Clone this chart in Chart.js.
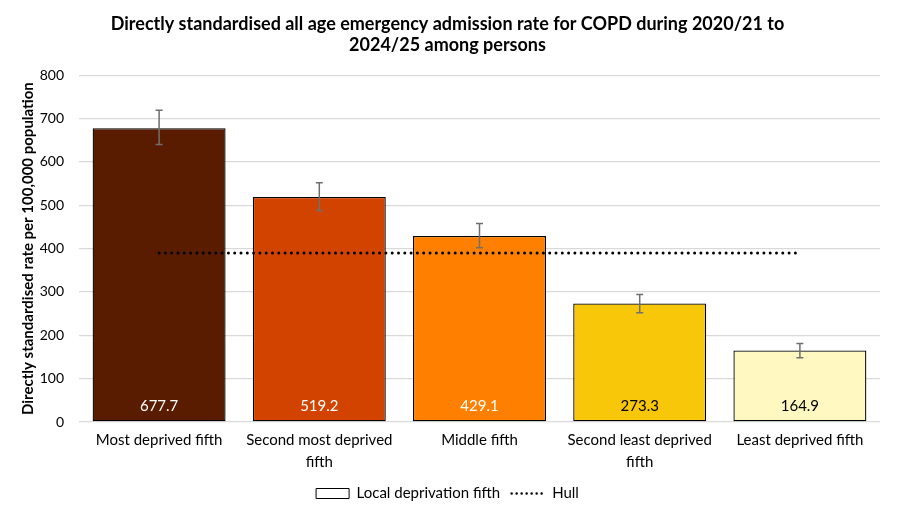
<!DOCTYPE html>
<html>
<head>
<meta charset="utf-8">
<script src="https://cdn.jsdelivr.net/npm/chart.js@4/dist/chart.umd.min.js"></script>
<style>
  body { margin: 0; background: #fff; }
  #wrap { width: 920px; height: 515px; }
</style>
</head>
<body>
<div id="wrap"><canvas id="copdchart"></canvas></div>
<script>
// Start Data
const categories = [
  ['Most deprived fifth'],
  ['Second most deprived', 'fifth'],
  ['Middle fifth'],
  ['Second least deprived', 'fifth'],
  ['Least deprived fifth']
];
const rates = [677.7, 519.2, 429.1, 273.3, 164.9];
const lowerCI = [640, 488, 402, 252, 148];
const upperCI = [719, 552, 458, 294, 181];
const hullRate = [390, 390, 390, 390, 390];
const yTicks = [0, 100, 200, 300, 400, 500, 600, 700, 800];
const barColours = ['#5a1c00', '#d34300', '#ff8000', '#f8c70a', '#fff8c0'];
const labelColours = ['#ffffff', '#ffffff', '#ffffff', '#000000', '#000000'];
// End Data

const FONT = 'Lato, "Open Sans", sans-serif';

// Start Error bars + value labels
const barExtras = {
  id: 'barExtras',
  afterDatasetsDraw(chart) {
    const ctx = chart.ctx;
    const y = chart.scales.y;
    const meta = chart.getDatasetMeta(0);
    ctx.save();
    meta.data.forEach(function(bar, i){
      // value label near the bottom of the bar
      ctx.fillStyle = labelColours[i];
      ctx.font = '15px ' + FONT;
      ctx.textAlign = 'center';
      ctx.textBaseline = 'middle';
      ctx.fillText(rates[i].toFixed(1), bar.x, bar.base - 15);

      // confidence interval
      const top = y.getPixelForValue(upperCI[i]);
      const bot = y.getPixelForValue(lowerCI[i]);
      ctx.strokeStyle = '#6f6f6f';
      ctx.lineWidth = 1.5;
      ctx.beginPath();
      ctx.moveTo(bar.x, top); ctx.lineTo(bar.x, bot);
      ctx.moveTo(bar.x - 3.5, top); ctx.lineTo(bar.x + 3.5, top);
      ctx.moveTo(bar.x - 3.5, bot); ctx.lineTo(bar.x + 3.5, bot);
      ctx.stroke();
    });
    ctx.restore();
  }
};
// End Error bars

new Chart(document.getElementById('copdchart'), {
  data: {
    labels: categories,
    datasets: [{
      type: 'bar',
      label: 'Local deprivation fifth',
      data: rates,
      backgroundColor: barColours,
      borderColor: '#000000',
      borderWidth: 1.3,
      borderSkipped: false,
      categoryPercentage: 1,
      barPercentage: 0.83,
      order: 1
    }, {
      type: 'line',
      label: 'Hull',
      data: hullRate,
      borderColor: '#000000',
      borderWidth: 3,
      borderDash: [0, 6.3],
      borderCapStyle: 'round',
      pointRadius: 0,
      fill: false,
      order: 0
    }]
  },
  options: {
    responsive: true,
    maintainAspectRatio: false,
    animation: false,
    layout: { padding: { left: 15, right: 40, top: 11, bottom: 4 } },
    plugins: {
      title: {
        display: true,
        text: ['Directly standardised all age emergency admission rate for COPD during 2020/21 to', '2024/25 among persons'],
        color: '#000',
        font: { family: FONT, size: 18, weight: 'bold' },
        lineHeight: 1.22,
        padding: { top: 2, bottom: 19 }
      },
      legend: {
        position: 'bottom',
        labels: {
          usePointStyle: true,
          pointStyleWidth: 33,
          boxHeight: 10,
          color: '#000',
          font: { family: FONT, size: 15 },
          padding: 11.5,
          generateLabels: function(chart){
            return [{
              text: 'Local deprivation fifth',
              pointStyle: 'rect',
              fillStyle: '#ffffff',
              strokeStyle: '#000000',
              lineWidth: 1,
              datasetIndex: 0
            }, {
              text: 'Hull',
              pointStyle: 'line',
              fillStyle: '#000000',
              strokeStyle: '#000000',
              lineWidth: 2.5,
              lineDash: [0, 5],
              lineCap: 'round',
              datasetIndex: 1
            }];
          }
        }
      },
      tooltip: { enabled: false }
    },
    scales: {
      x: {
        grid: { display: false, drawTicks: false },
        border: { display: false },
        afterFit: function(axis){ axis.height = 52.5; },
        ticks: {
          color: '#000',
          font: { family: FONT, size: 15, lineHeight: 1.467 },
          maxRotation: 0,
          autoSkip: false,
          padding: 7
        }
      },
      y: {
        min: 0,
        max: 800,
        afterBuildTicks: function(axis){
          axis.ticks = yTicks.map(function(v){ return { value: v }; });
        },
        afterFit: function(axis){ axis.width = 64; },
        grid: { color: '#d9d9d9', lineWidth: 1.3, drawTicks: false },
        border: { display: false },
        ticks: {
          color: '#000',
          font: { family: FONT, size: 14 },
          padding: 15
        },
        title: {
          display: true,
          text: 'Directly standardised rate per 100,000 population',
          color: '#000',
          font: { family: FONT, size: 15, weight: 'bold' },
          padding: { top: 4, bottom: 0 }
        }
      }
    }
  },
  plugins: [barExtras]
});
</script>
</body>
</html>
